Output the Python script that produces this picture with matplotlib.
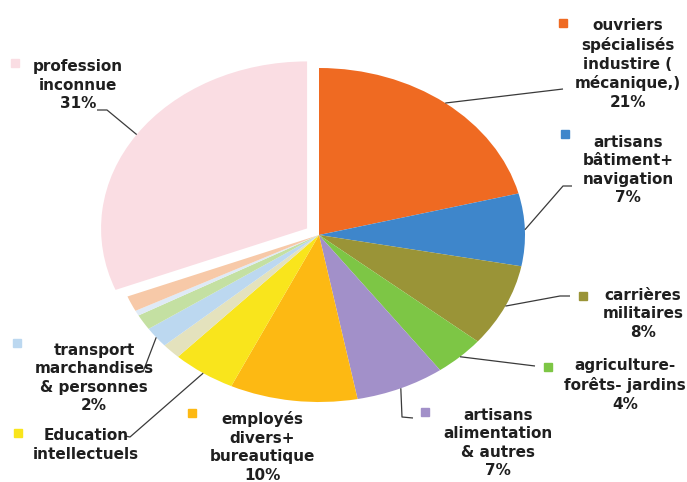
import math

import matplotlib.pyplot as plt

categories = [
    "ouvriers\nspécialisés\nindustire (\nmécanique,)",
    "artisans\nbâtiment+\nnavigation",
    "carrières\nmilitaires",
    "agriculture-\nforêts- jardins",
    "artisans\nalimentation\n& autres",
    "employés\ndivers+\nbureautique",
    "Education\nintellectuels",
    "",
    "transport\nmarchandises\n& personnes",
    "",
    "",
    "",
    "profession\ninconnue",
]
shares = [21, 7, 8, 4, 7, 10, 5, 1.5, 2, 1.5, 0.5, 1.5, 31]
show_pct = [True, True, True, True, True, True, False, False, True, False, False, False, True]
colors = [
    "#ef6a22", "#3e86cb", "#9a9437", "#7dc645", "#a290c9", "#fdb913",
    "#f9e51c", "#e4e2bd", "#bcd8f0", "#c4e0a2", "#dfeaf6", "#f7c9a8", "#fadde3",
]

# placement in pixels of the 687x482 picture: text centre, key square, leader bends
W, H = 687, 482
CX, CY, RX, RY = 319, 235, 206, 167
LAYOUT = {
    0: ((628, 64), (563, 23), [(563, 89)]),
    1: ((628, 170), (565, 134), [(563, 186), (572, 186)]),
    2: ((643, 314), (583, 296), [(560, 296), (570, 296)]),
    3: ((625, 385), (548, 367), [(535, 366)]),
    4: ((498, 443), (425, 412), [(402, 417), (413, 418)]),
    5: ((262, 447), (192, 413), []),
    6: ((86, 445), (18, 433), [(130, 437), (125, 436)]),
    8: ((94, 378), (17, 343), [(143, 372)]),
    12: ((78, 85), (15, 63), [(107, 110), (97, 110)]),
}


def to_data(x, y):
    return (x - CX) / RX, (CY - y) / RY


def main():
    fig = plt.figure(figsize=(W / 100, H / 100), dpi=100)
    ax = fig.add_axes([0, 0, 1, 1])
    explode = [0.07 if name.startswith("profession") else 0 for name in categories]
    wedges, _ = ax.pie(
        shares,
        colors=colors,
        startangle=90,
        counterclock=False,
        explode=explode,
        wedgeprops=dict(linewidth=0),
    )
    ax.set_aspect("auto")
    ax.set_xlim(-CX / RX, (W - CX) / RX)
    ax.set_ylim((CY - H) / RY, CY / RY)
    ax.axis("off")

    for i, (text_xy, key_xy, bends) in LAYOUT.items():
        label = categories[i]
        if show_pct[i]:
            label += f"\n{shares[i]:.0f}%"
        tx, ty = to_data(*text_xy)
        ax.text(tx, ty, label, ha="center", va="center", fontsize=11,
                fontweight="bold", color="#1f1f1f", linespacing=1.3,
                family="DejaVu Sans")
        kx, ky = to_data(*key_xy)
        ax.plot([kx], [ky], marker="s", markersize=6, color=colors[i], linestyle="none")
        if bends:
            w = wedges[i]
            mid = math.radians((w.theta1 + w.theta2) / 2)
            xs = [w.center[0] + w.r * math.cos(mid)]
            ys = [w.center[1] + w.r * math.sin(mid)]
            for bx, by in bends:
                dx, dy = to_data(bx, by)
                xs.append(dx)
                ys.append(dy)
            ax.plot(xs, ys, color="#3a3a3a", linewidth=0.9, solid_capstyle="butt")

    fig.savefig("out.png", dpi=100)
    plt.close(fig)


if __name__ == "__main__":
    main()
